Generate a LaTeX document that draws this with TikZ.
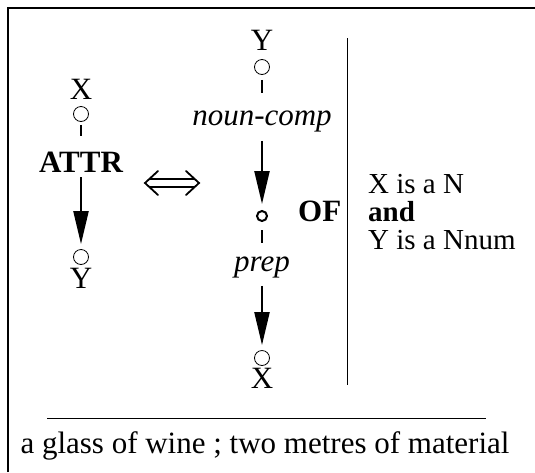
\documentclass[tikz,border=0pt]{standalone}
\usepackage{fontspec}
\setmainfont{Liberation Serif}
\usetikzlibrary{arrows.meta}
\begin{document}
\begin{tikzpicture}[x=1pt,y=-1pt,
  lbl/.style={inner sep=0pt, font=\fontsize{31}{36}\selectfont},
  cnd/.style={inner sep=0pt, anchor=base west, font=\fontsize{29}{34}\selectfont},
  dot/.style={circle, draw, line width=0.8pt, minimum size=15pt, inner sep=0pt},
  sdot/.style={circle, draw, line width=2pt, minimum size=10pt, inner sep=0pt},
  link/.style={line width=2.2pt},
  dep/.style={line width=2.2pt, -{Triangle[length=33pt,width=15pt]}},
  eqs/.style={line width=1.8pt, line cap=round, line join=miter},
  rule/.style={line width=0.8pt}]
\useasboundingbox (0,0) rectangle (535,472);
\draw[line width=2pt] (8,472) -- (8,8) -- (535,8);
% left column
\node[lbl] (xl) at (81,89) {X};
\node[dot] (cl1) at (81,114) {};
\node[lbl, font=\fontsize{31}{36}\selectfont\bfseries] (attr) at (81,162) {ATTR};
\node[dot] (cl2) at (81,257) {};
\node[lbl] (yl) at (81,278) {Y};
\draw[link, shorten <=3pt, shorten >=16pt] (cl1) -- (attr);
\draw[dep, shorten <=5pt, shorten >=5pt] (attr) -- (cl2);
% equivalence sign
\draw[eqs] (158,171) -- (145,183) -- (158,195);
\draw[eqs] (186,171) -- (199,183) -- (186,195);
\draw[eqs] (149.5,179) -- (194.5,179);
\draw[eqs] (149.5,187) -- (194.5,187);
% middle column
\node[lbl] (ym) at (262,40) {Y};
\node[dot] (cm1) at (262,67) {};
\node[lbl, font=\fontsize{31}{36}\selectfont\itshape] (nc) at (262,121) {noun-comp};
\node[sdot] (of) at (262,216) {};
\node[lbl, font=\fontsize{31}{36}\selectfont\bfseries, anchor=west] (oft) at (298,211) {OF};
\node[lbl, font=\fontsize{31}{36}\selectfont\itshape] (prep) at (262,267) {prep};
\node[dot] (cm2) at (262,358) {};
\node[lbl] (xm) at (262,378) {X};
\draw[link, shorten <=5pt, shorten >=17pt] (cm1) -- (nc);
\draw[dep, shorten <=9pt, shorten >=6pt] (nc) -- (of);
\draw[link, shorten <=8pt, shorten >=13pt] (of) -- (prep);
\draw[dep, shorten <=8pt, shorten >=5pt] (prep) -- (cm2);
% separator and conditions
\coordinate (vt) at (347,38);
\coordinate (vb) at (347,385);
\draw[rule] (vt) -- (vb);
\node[cnd] (c1) at (368,193) {X is a N};
\node[cnd, font=\fontsize{29}{34}\selectfont\bfseries] (c2) at (368,221) {and};
\node[cnd] (c3) at (368,249) {Y is a Nnum};
% bottom
\coordinate (hl) at (47,418);
\coordinate (hr) at (486,418);
\draw[rule] (hl) -- (hr);
\node[lbl] (ex) at (265,446) {a glass of wine ; two metres of material};
\end{tikzpicture}
\end{document}
